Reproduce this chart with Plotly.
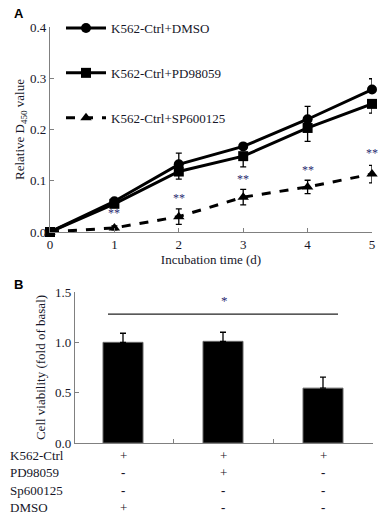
import plotly.graph_objects as go

# ---------- Data: Panel A ----------
days = [0, 1, 2, 3, 4, 5]
dmso = [0.0, 0.060, 0.132, 0.167, 0.220, 0.278]
dmso_err = [0.0, 0.005, 0.022, 0.005, 0.025, 0.021]
pd_vals = [0.0, 0.055, 0.118, 0.148, 0.203, 0.250]
pd_err = [0.0, 0.005, 0.015, 0.021, 0.026, 0.018]
sp_vals = [0.0, 0.008, 0.030, 0.068, 0.088, 0.113]
sp_err = [0.0, 0.004, 0.015, 0.015, 0.013, 0.017]
star_days = [1, 2, 3, 4, 5]
star_y = [0.038, 0.066, 0.103, 0.121, 0.155]
y_ticks_a = [0.0, 0.1, 0.2, 0.3, 0.4]

# ---------- Data: Panel B ----------
groups = [0, 1, 2]
viability = [1.00, 1.01, 0.545]
viability_err = [0.09, 0.09, 0.11]
y_ticks_b = [0.0, 0.5, 1.0, 1.5]
row_labels = ["K562-Ctrl", "PD98059", "Sp600125", "DMSO"]
row_signs = [["+", "+", "+"],
             ["-", "+", "-"],
             ["-", "-", "-"],
             ["+", "-", "-"]]

W, H = 381, 519
FONT = "Times New Roman, Liberation Serif, DejaVu Serif, serif"
TXT = "#161628"
AX = "#808080"

def px(y):
    return 1 - y / H

fig = go.Figure()

fig.add_trace(go.Scatter(
    x=days, y=dmso, name="K562-Ctrl+DMSO", mode="lines+markers",
    line=dict(color="black", width=3), marker=dict(symbol="circle", size=10, color="black"),
    error_y=dict(type="data", array=dmso_err, arrayminus=[0]*6, color="black", thickness=1.3, width=3),
    xaxis="x", yaxis="y", legendgroup="a", cliponaxis=False))
fig.add_trace(go.Scatter(
    x=days, y=pd_vals, name="K562-Ctrl+PD98059", mode="lines+markers",
    line=dict(color="black", width=3), marker=dict(symbol="square", size=10, color="black"),
    error_y=dict(type="data", array=[0]*6, arrayminus=pd_err, color="black", thickness=1.3, width=3),
    xaxis="x", yaxis="y", legendgroup="b", cliponaxis=False))
fig.add_trace(go.Scatter(
    x=days, y=sp_vals, name="K562-Ctrl+SP600125", mode="lines+markers",
    line=dict(color="black", width=3, dash="dash"), marker=dict(symbol="triangle-up", size=10, color="black"),
    error_y=dict(type="data", array=sp_err, color="black", thickness=1.3, width=3),
    xaxis="x", yaxis="y", legendgroup="c", cliponaxis=False))

fig.add_trace(go.Bar(
    x=groups, y=viability, width=0.4, showlegend=False,
    marker=dict(color="black", line=dict(color="#666", width=1)),
    error_y=dict(type="data", array=viability_err, arrayminus=[0]*3, color="black", thickness=1.3, width=3),
    xaxis="x2", yaxis="y2"))

annotations = []
for d, y in zip(star_days, star_y):
    annotations.append(dict(x=d, y=y, xref="x", yref="y", text="**", showarrow=False,
                            font=dict(family=FONT, size=12, color="#2a2a70")))

# Panel labels
annotations.append(dict(x=12 / W, y=px(4), xref="paper", yref="paper", text="<b>A</b>",
                        showarrow=False, xanchor="left", yanchor="top",
                        font=dict(family="Liberation Sans, Arial, sans-serif", size=13, color="black")))
annotations.append(dict(x=12 / W, y=px(275), xref="paper", yref="paper", text="<b>B</b>",
                        showarrow=False, xanchor="left", yanchor="top",
                        font=dict(family="Liberation Sans, Arial, sans-serif", size=13, color="black")))

# Significance star for panel B
annotations.append(dict(x=1.01, y=1.42, xref="x2", yref="y2", text="*", showarrow=False,
                        font=dict(family=FONT, size=13, color="#2a2a70")))

# Table below panel B
row_y = [455, 472, 490, 507]
for lab, ry, signs in zip(row_labels, row_y, row_signs):
    annotations.append(dict(x=8 / W, y=px(ry), xref="paper", yref="paper", text=lab,
                            showarrow=False, xanchor="left", yanchor="middle",
                            font=dict(family=FONT, size=13, color=TXT)))
    for g, s in zip(groups, signs):
        annotations.append(dict(x=g, y=px(ry), xref="x2", yref="paper",
                                text=s if s == "+" else "<b>-</b>",
                                showarrow=False, yanchor="middle",
                                font=dict(family=FONT, size=13, color=TXT)))

shapes = [dict(type="line", xref="x2", yref="y2", x0=-0.15, x1=2.15, y0=1.28, y1=1.28,
               line=dict(color="#222", width=1.2))]

axis_common = dict(showline=True, linecolor=AX, linewidth=1.3, showgrid=False, zeroline=False,
                   ticks="inside", ticklen=4, tickcolor=AX, automargin=False,
                   tickfont=dict(family=FONT, size=13, color=TXT))

fig.update_layout(
    width=W, height=H, margin=dict(l=0, r=0, t=0, b=0),
    paper_bgcolor="white", plot_bgcolor="white",
    font=dict(family=FONT, size=13, color=TXT),
    showlegend=True,
    legend=dict(x=61 / W, y=px(13), xanchor="left", yanchor="top",
                bgcolor="rgba(0,0,0,0)", tracegroupgap=25, itemwidth=40,
                font=dict(family=FONT, size=13, color=TXT)),
    xaxis=dict(domain=[50 / W, 372 / W], range=[0, 5], tickvals=days, anchor="y",
               title=dict(text="Incubation time (d)", standoff=2,
                          font=dict(family=FONT, size=13, color=TXT)),
               **axis_common),
    yaxis=dict(domain=[px(232), px(27)], range=[0, 0.4], tickvals=y_ticks_a,
               tickformat=".1f", anchor="x",
               title=dict(text="Relative D<sub>450</sub> value", standoff=2,
                          font=dict(family=FONT, size=13, color=TXT)),
               **axis_common),
    xaxis2=dict(domain=[75 / W, 373 / W], range=[-0.48, 2.5], tickvals=[0.5, 1.5, 2.5],
                showticklabels=False, anchor="y2", **axis_common),
    yaxis2=dict(domain=[px(443), px(292)], range=[0, 1.5], tickvals=y_ticks_b,
                tickformat=".1f", anchor="x2",
                title=dict(text="Cell viability (fold of basal)", standoff=6,
                           font=dict(family=FONT, size=13, color=TXT)),
                **axis_common),
    annotations=annotations, shapes=shapes,
)

fig.write_html("out.html", config={"displayModeBar": False},
               post_script="document.body.style.margin='0';document.body.style.padding='0';")
